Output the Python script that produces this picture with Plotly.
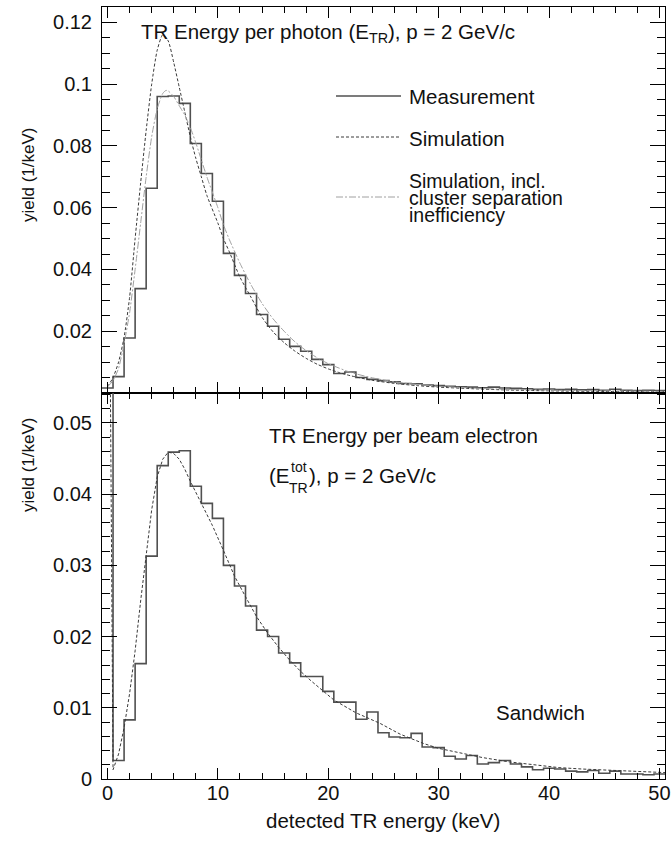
import plotly.graph_objects as go

# ---------------- data ----------------
bin_centers = list(range(0, 51))  # keV, 1 keV wide bins

photon_measured = [
    0.0016, 0.0053, 0.0178, 0.0338, 0.0663, 0.0960, 0.0962, 0.0938, 0.0808, 0.0711,
    0.0621, 0.0452, 0.0381, 0.0322, 0.0254, 0.0216, 0.0174, 0.0151, 0.0135, 0.0109,
    0.0092, 0.0063, 0.0068, 0.0050, 0.0044, 0.0040, 0.0036, 0.0031, 0.0030, 0.0026,
    0.0024, 0.0022, 0.0020, 0.0019, 0.0017, 0.0019, 0.0016, 0.0015, 0.0014, 0.0012,
    0.0013, 0.0011, 0.0012, 0.0010, 0.0011, 0.0009, 0.0012, 0.0009, 0.0008, 0.0009,
    0.0008,
]

electron_measured = [
    0.3000, 0.0026, 0.0083, 0.0162, 0.0313, 0.0440, 0.0459, 0.0461, 0.0411, 0.0387,
    0.0366, 0.0300, 0.0271, 0.0243, 0.0209, 0.0200, 0.0177, 0.0163, 0.0144, 0.0144,
    0.0123, 0.0108, 0.0108, 0.0084, 0.0094, 0.0065, 0.0059, 0.0058, 0.0064, 0.0045,
    0.0044, 0.0032, 0.0028, 0.0033, 0.0021, 0.0023, 0.0026, 0.0021, 0.0017, 0.0013,
    0.0015, 0.0014, 0.0011, 0.0010, 0.0012, 0.0008, 0.0011, 0.0007, 0.0007, 0.0006,
    0.0007,
]

sim_photon_x = [0.0, 0.5, 1.0, 1.5, 2.0, 2.5, 3.0, 3.5, 4.0, 4.5, 5.0, 5.5, 6.0, 6.5,
                7.0, 7.5, 8.0, 8.5, 9.0, 10.0, 10.5, 11.0, 12.0, 13.0, 14.0, 15.0,
                16.0, 17.0, 18.0, 19.0, 20.0, 21.0, 22.0, 24.0, 26.0, 28.0, 30.0,
                33.0, 36.0, 40.0, 45.0, 50.5]
sim_photon_y = [0.0020, 0.0050, 0.0100, 0.0180, 0.0310, 0.0500, 0.0680, 0.0850, 0.1000,
                0.1110, 0.1160, 0.1140, 0.1070, 0.0990, 0.0910, 0.0830, 0.0760, 0.0700,
                0.0640, 0.0550, 0.0500, 0.0460, 0.0375, 0.0310, 0.0245, 0.0198, 0.0163,
                0.0135, 0.0112, 0.0093, 0.0078, 0.0066, 0.0056, 0.0041, 0.0031, 0.0024,
                0.0019, 0.0014, 0.0010, 0.0007, 0.0005, 0.0004]

sim_ineff_x = [0.0, 0.5, 1.0, 1.5, 2.0, 2.5, 3.0, 3.5, 4.0, 4.5, 5.0, 5.3, 5.5, 6.0,
               6.5, 7.0, 7.5, 8.0, 9.0, 10.0, 10.5, 11.0, 12.0, 13.0, 14.0, 15.0, 16.0,
               17.0, 18.0, 19.0, 20.0, 22.0, 24.0, 26.0, 28.0, 30.0, 33.0, 36.0, 40.0,
               45.0, 50.5]
sim_ineff_y = [0.0020, 0.0040, 0.0080, 0.0160, 0.0260, 0.0400, 0.0550, 0.0700, 0.0830,
               0.0920, 0.0970, 0.0980, 0.0978, 0.0960, 0.0930, 0.0900, 0.0860, 0.0810,
               0.0700, 0.0600, 0.0545, 0.0500, 0.0420, 0.0350, 0.0290, 0.0240, 0.0200,
               0.0165, 0.0137, 0.0114, 0.0095, 0.0067, 0.0049, 0.0036, 0.0028, 0.0022,
               0.0016, 0.0012, 0.0009, 0.0007, 0.0005]

sim_electron_x = [0.15, 0.5, 1.0, 1.5, 2.0, 2.5, 3.0, 3.5, 4.0, 4.5, 5.0, 5.5, 6.0, 6.5,
                  7.0, 7.5, 8.5, 9.5, 10.5, 11.5, 12.5, 13.5, 14.5, 15.5, 16.5, 17.5,
                  18.5, 19.5, 20.5, 22.5, 24.7, 26.5, 28.6, 30.0, 31.9, 34.0, 36.4, 38.5,
                  40.9, 43.0, 45.5, 48.0, 50.5]
sim_electron_y = [0.0800, 0.0013, 0.0035, 0.0072, 0.0120, 0.0180, 0.0250, 0.0317, 0.0378,
                  0.0424, 0.0449, 0.0459, 0.0457, 0.0449, 0.0435, 0.0418, 0.0387, 0.0356,
                  0.0321, 0.0285, 0.0256, 0.0228, 0.0205, 0.0185, 0.0167, 0.0151, 0.0137,
                  0.0124, 0.0111, 0.0093, 0.0078, 0.0063, 0.0050, 0.0043, 0.0037, 0.0030,
                  0.0024, 0.0020, 0.0016, 0.0014, 0.0012, 0.0010, 0.0009]

top_tickvals = [0.02, 0.04, 0.06, 0.08, 0.10, 0.12]
top_ticktext = ["0.02", "0.04", "0.06", "0.08", "0.1", "0.12"]
bot_tickvals = [0.0, 0.01, 0.02, 0.03, 0.04, 0.05]
bot_ticktext = ["0", "0.01", "0.02", "0.03", "0.04", "0.05"]
x_tickvals = [0, 10, 20, 30, 40, 50]
x_ticktext = ["0", "10", "20", "30", "40", "50"]

# ---------------- figure ----------------
W, H = 671, 843
ML, MR, MT, MB = 102, 6, 7, 64
PW, PH = W - ML - MR, H - MT - MB

def px2x(px):
    return (px - ML) / PW

def py2y(py):
    return (H - MB - py) / PH

FONT = "Liberation Sans, Arial, Helvetica, sans-serif"
HIST_COL = "#505050"
SIM_COL = "#3a3a3a"
INEFF_COL = "#a0a0a0"


def step_xy(centers, values):
    xs = [c - 0.5 for c in centers] + [centers[-1] + 0.5]
    ys = list(values) + [values[-1]]
    return xs, ys


fig = go.Figure()

hx, hy = step_xy(bin_centers, photon_measured)
fig.add_trace(go.Scatter(x=hx, y=hy, mode="lines", line=dict(shape="hv", color=HIST_COL, width=1.6),
                         xaxis="x", yaxis="y", showlegend=False))
fig.add_trace(go.Scatter(x=sim_photon_x, y=sim_photon_y, mode="lines",
                         line=dict(shape="spline", smoothing=0.6, color=SIM_COL, width=1, dash="3px,2px"),
                         xaxis="x", yaxis="y", showlegend=False))
fig.add_trace(go.Scatter(x=sim_ineff_x, y=sim_ineff_y, mode="lines",
                         line=dict(shape="spline", smoothing=0.6, color=INEFF_COL, width=1, dash="7px,2px,2px,2px"),
                         xaxis="x", yaxis="y", showlegend=False))

hx2, hy2 = step_xy(bin_centers, electron_measured)
fig.add_trace(go.Scatter(x=hx2, y=hy2, mode="lines", line=dict(shape="hv", color=HIST_COL, width=1.6),
                         xaxis="x2", yaxis="y2", showlegend=False))
fig.add_trace(go.Scatter(x=sim_electron_x, y=sim_electron_y, mode="lines",
                         line=dict(color=SIM_COL, width=1, dash="3px,2px"),
                         xaxis="x2", yaxis="y2", showlegend=False))

tickfont = dict(family=FONT, size=20, color="#111")
common_x = dict(range=[-0.5, 50.5], showgrid=False, zeroline=False, showline=True, linecolor="black",
                linewidth=1, mirror="ticks", ticks="inside", ticklen=11, tickcolor="black",
                tickvals=x_tickvals, ticktext=x_ticktext, tickfont=tickfont, automargin=False,
                ticklabeloverflow="allow",
                minor=dict(ticks="inside", ticklen=6, dtick=2, tick0=0, tickcolor="black", showgrid=False))
common_y = dict(showgrid=False, zeroline=False, showline=True, linecolor="black", linewidth=1,
                mirror="ticks", ticks="inside", ticklen=15, tickcolor="black", tickfont=tickfont,
                automargin=False, ticklabelstandoff=5, ticklabeloverflow="allow")

fig.update_layout(
    width=W, height=H,
    margin=dict(l=ML, r=MR, t=MT, b=MB, autoexpand=False),
    paper_bgcolor="white", plot_bgcolor="white",
    font=dict(family=FONT, color="#111"),
    xaxis=dict(domain=[0, 1], anchor="y", showticklabels=False, **common_x),
    xaxis2=dict(domain=[0, 1], anchor="y2", showticklabels=True, ticklabelstandoff=-4, **common_x),
    yaxis=dict(domain=[0.5, 1], anchor="x", range=[0, 0.125], tickvals=top_tickvals, ticktext=top_ticktext,
               minor=dict(ticks="inside", ticklen=8, dtick=0.005, tick0=0, tickcolor="black", showgrid=False),
               **common_y),
    yaxis2=dict(domain=[0, 0.5], anchor="x2", range=[0, 0.0542], tickvals=bot_tickvals, ticktext=bot_ticktext,
                minor=dict(ticks="inside", ticklen=8, dtick=0.002, tick0=0, tickcolor="black", showgrid=False),
                **common_y),
)

# legend samples
leg_x0, leg_x1 = px2x(336), px2x(401)
for py, col, dash in [(96, HIST_COL, "solid"), (137, SIM_COL, "3px,2px"), (197, INEFF_COL, "7px,2px,2px,2px")]:
    fig.add_shape(type="line", xref="paper", yref="paper", x0=leg_x0, x1=leg_x1, y0=py2y(py), y1=py2y(py),
                  line=dict(color=col, width=1.3 if dash == "solid" else 1, dash=dash))

TXT = 20.5
anns = [
    ("TR Energy per photon (E<sub>TR</sub>), p = 2 GeV/c", 140, 33, TXT),
    ("Measurement", 408, 97, TXT),
    ("Simulation", 408, 138, TXT),
    ("Simulation, incl.", 408, 181, 19.5),
    ("cluster separation", 408, 198, 19.5),
    ("inefficiency", 408, 215, 19.5),
    ("TR Energy per beam electron", 268, 435, TXT),
    ("(E", 268, 476, TXT),
    ("tot", 290, 467, 14),
    ("TR", 288, 488, 14),
    ("), p = 2 GeV/c", 308, 476, TXT),
    ("Sandwich", 495, 712, TXT),
]
for text, px, py, size in anns:
    fig.add_annotation(text=text, xref="paper", yref="paper", x=px2x(px), y=py2y(py),
                       xanchor="left", yanchor="middle", showarrow=False, borderpad=0,
                       font=dict(family=FONT, size=size, color="#111"))

fig.add_annotation(text="detected TR energy (keV)", xref="paper", yref="paper", x=px2x(383), y=py2y(820),
                   xanchor="center", yanchor="middle", showarrow=False, borderpad=0,
                   font=dict(family=FONT, size=TXT, color="#111"))
for py in (175, 465):
    fig.add_annotation(text="yield (1/keV)", xref="paper", yref="paper", x=px2x(28), y=py2y(py),
                       xanchor="center", yanchor="middle", textangle=-90, showarrow=False, borderpad=0,
                       font=dict(family=FONT, size=17, color="#111"))

fig.write_html("out.html", config={"displayModeBar": False},
               post_script="document.body.style.margin='0';document.body.style.overflow='hidden';")
